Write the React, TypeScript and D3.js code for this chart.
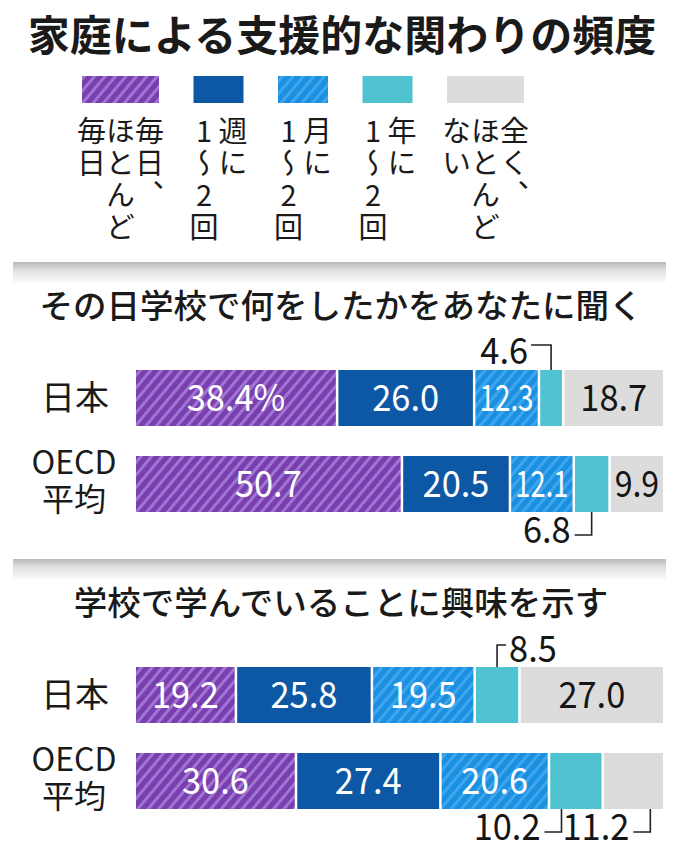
import React, { useEffect } from "react";
import * as d3 from "d3";

const title = "家庭による支援的な関わりの頻度";
const categories = ["毎日、ほとんど毎日", "週に1〜2回", "月に1〜2回", "年に1〜2回", "全く、ほとんどない"];
// legend text columns, in reading order (right column first)
const legendColumns = [
  ["毎日、", "ほとんど", "毎日"],
  ["週に", "1〜2回"],
  ["月に", "1〜2回"],
  ["年に", "1〜2回"],
  ["全く、", "ほとんど", "ない"],
];
const questions = ["その日学校で何をしたかをあなたに聞く", "学校で学んでいることに興味を示す"];
const rowLabels = [["日本"], ["OECD", "平均"]];
const q1Japan = [38.4, 26.0, 12.3, 4.6, 18.7];
const q1Oecd = [50.7, 20.5, 12.1, 6.8, 9.9];
const q2Japan = [19.2, 25.8, 19.5, 8.5, 27.0];
const q2Oecd = [30.6, 27.4, 20.6, 10.2, 11.2];
const seriesByQuestion = [
  [q1Japan, q1Oecd],
  [q2Japan, q2Oecd],
];
// outside labels: question, row, category, style
const outsideLabels = [
  { q: 0, r: 0, c: 3, kind: "topLeft", at: 0.5 },
  { q: 0, r: 1, c: 3, kind: "bottomLeft", at: 0.5 },
  { q: 1, r: 0, c: 3, kind: "topRight", at: 0.5 },
  { q: 1, r: 1, c: 3, kind: "bottomLeft", at: 0.22 },
  { q: 1, r: 1, c: 4, kind: "bottomLeft", at: 0.82 },
];

const colors = ["#7a3fae", "#0c58a5", "#1b8fe0", "#50c3d0", "#dcdcdc"];
const stripeColors = ["#a074d2", null, "#3fa6ee", null, null];
const textColors = ["#ffffff", "#ffffff", "#ffffff", "#ffffff", "#151515"];

const FONT = "'Noto Sans CJK JP', 'Noto Sans', sans-serif";

const NUM_SIZE = 37;
const NUM_SCALE = 0.93;
const estWidth = (s: string) =>
  s.split("").reduce((a, ch) => a + (ch === "." ? 0.3 : ch === "%" ? 0.88 : 0.6), 0) * NUM_SIZE;

export default function App() {
  useEffect(() => {
    document.body.style.margin = "0";
  }, []);

  const W = 680;
  const H = 860;
  const x = d3.scaleLinear().domain([0, 100]).range([136, 663]);
  const barH = 56;
  const sectionTop = [370, 667];
  const rowStep = 86;
  const gap = 2.5;

  // legend layout
  const swW = legendColumns.map((c) => 27 * c.length - 4);
  const swX: number[] = [];
  swW.reduce((acc, w) => {
    swX.push(acc);
    return acc + w + 34.5;
  }, 82);

  const line = d3.line<[number, number]>();

  const numText = (
    key: string,
    cx: number,
    baseline: number,
    str: string,
    fill: string,
    anchor: "start" | "middle" | "end",
    maxW?: number
  ) => {
    let sx = NUM_SCALE;
    if (maxW !== undefined) {
      const w = estWidth(str);
      sx = Math.min(NUM_SCALE, maxW / w);
    }
    return (
      <text
        key={key}
        transform={`translate(${cx},${baseline}) scale(${sx},1)`}
        textAnchor={anchor}
        fontSize={NUM_SIZE}
        fill={fill}
        fontFamily={FONT}
      >
        {str}
      </text>
    );
  };

  return (
    <svg width={W} height={H} viewBox={`0 0 ${W} ${H}`} style={{ display: "block", background: "#fff" }}>
      <defs>
        {colors.map((col, i) =>
          stripeColors[i] ? (
            <pattern
              key={i}
              id={`hatch${i}`}
              patternUnits="userSpaceOnUse"
              width={8}
              height={8}
              patternTransform="rotate(-50)"
            >
              <rect width={8} height={8} fill={col} />
              <rect width={8} height={3} fill={stripeColors[i] as string} />
            </pattern>
          ) : null
        )}
        <linearGradient id="sep" x1="0" y1="0" x2="0" y2="1">
          <stop offset="0" stopColor="#b9b9b9" />
          <stop offset="0.35" stopColor="#dedede" />
          <stop offset="1" stopColor="#ffffff" />
        </linearGradient>
      </defs>

      {/* Title */}
      <text x={342} y={51} textAnchor="middle" fontSize={42} fontWeight={700} fill="#1a1a1a" fontFamily={FONT}>
        {title}
      </text>

      {/* Legend */}
      {categories.map((cat, i) => {
        const cx = swX[i] + swW[i] / 2;
        const cols = legendColumns[i];
        const n = cols.length;
        return (
          <g key={cat}>
            <rect
              x={swX[i]}
              y={76}
              width={swW[i]}
              height={27}
              fill={stripeColors[i] ? `url(#hatch${i})` : colors[i]}
            />
            {cols.map((c, j) => (
              <text
                key={j}
                x={cx + ((n - 1) / 2) * 29 - j * 29}
                y={116}
                fontSize={29}
                fill="#1a1a1a"
                fontFamily={FONT}
                style={{ writingMode: "vertical-rl", textOrientation: "upright", letterSpacing: "3px" } as any}
              >
                {c}
              </text>
            ))}
          </g>
        );
      })}

      {/* Sections */}
      {questions.map((q, qi) => {
        const top = sectionTop[qi];
        const sepY = top - 108;
        return (
          <g key={q}>
            <rect x={13} y={sepY} width={653} height={22} fill="url(#sep)" />
            <text x={341} y={top - 52} textAnchor="middle" fontSize={33.5} fontWeight={500} fill="#1a1a1a" fontFamily={FONT}>
              {q}
            </text>
            {seriesByQuestion[qi].map((vals, ri) => {
              const y0 = top + ri * rowStep;
              const cums = d3.cumsum(vals);
              const lab = rowLabels[ri];
              return (
                <g key={ri}>
                  {lab.length === 1 ? (
                    <text x={75} y={y0 + barH / 2 + 12} textAnchor="middle" fontSize={34} fill="#1a1a1a" fontFamily={FONT}>
                      {lab[0]}
                    </text>
                  ) : (
                    <text x={74} y={y0 + 18} textAnchor="middle" fontSize={32} fill="#1a1a1a" fontFamily={FONT}>
                      {lab.map((l, li) => (
                        <tspan key={li} x={74} y={y0 + 18 + li * 37}>
                          {l}
                        </tspan>
                      ))}
                    </text>
                  )}
                  {vals.map((v, ci) => {
                    const start = ci === 0 ? 0 : cums[ci - 1];
                    const x0 = x(start);
                    const x1 = x(start + v) - (ci < vals.length - 1 ? gap : 0);
                    const outside = outsideLabels.some((o) => o.q === qi && o.r === ri && o.c === ci);
                    const str = qi === 0 && ri === 0 && ci === 0 ? `${v.toFixed(1)}%` : v.toFixed(1);
                    return (
                      <g key={ci}>
                        <rect
                          x={x0}
                          y={y0}
                          width={x1 - x0}
                          height={barH}
                          fill={stripeColors[ci] ? `url(#hatch${ci})` : colors[ci]}
                        />
                        {!outside &&
                          numText(`t${ci}`, (x0 + x1) / 2, y0 + barH / 2 + 13, str, textColors[ci], "middle", x1 - x0 - 4)}
                      </g>
                    );
                  })}
                </g>
              );
            })}
            {outsideLabels
              .filter((o) => o.q === qi)
              .map((o, k) => {
                const vals = seriesByQuestion[qi][o.r];
                const cums = d3.cumsum(vals);
                const start = o.c === 0 ? 0 : cums[o.c - 1];
                const v = vals[o.c];
                const ax = x(start) + (x(start + v) - gap - x(start)) * o.at;
                const y0 = top + o.r * rowStep;
                const str = v.toFixed(1);
                if (o.kind === "topLeft") {
                  const ly = y0 - 25;
                  return (
                    <g key={k}>
                      <path d={line([[ax - 20, ly], [ax, ly], [ax, y0]]) as string} fill="none" stroke="#222" strokeWidth={1.6} />
                      {numText("a", ax - 23, y0 - 6, str, "#151515", "end")}
                    </g>
                  );
                }
                if (o.kind === "topRight") {
                  const ly = y0 - 22;
                  return (
                    <g key={k}>
                      <path d={line([[ax, y0], [ax, ly], [ax + 9, ly]]) as string} fill="none" stroke="#222" strokeWidth={1.6} />
                      {numText("a", ax + 12, y0 - 5, str, "#151515", "start")}
                    </g>
                  );
                }
                const yb = y0 + barH;
                const ly = yb + 23;
                return (
                  <g key={k}>
                    <path d={line([[ax, yb], [ax, ly], [ax - 17, ly]]) as string} fill="none" stroke="#222" strokeWidth={1.6} />
                    {numText("a", ax - 21, yb + 31, str, "#151515", "end")}
                  </g>
                );
              })}
          </g>
        );
      })}
    </svg>
  );
}
